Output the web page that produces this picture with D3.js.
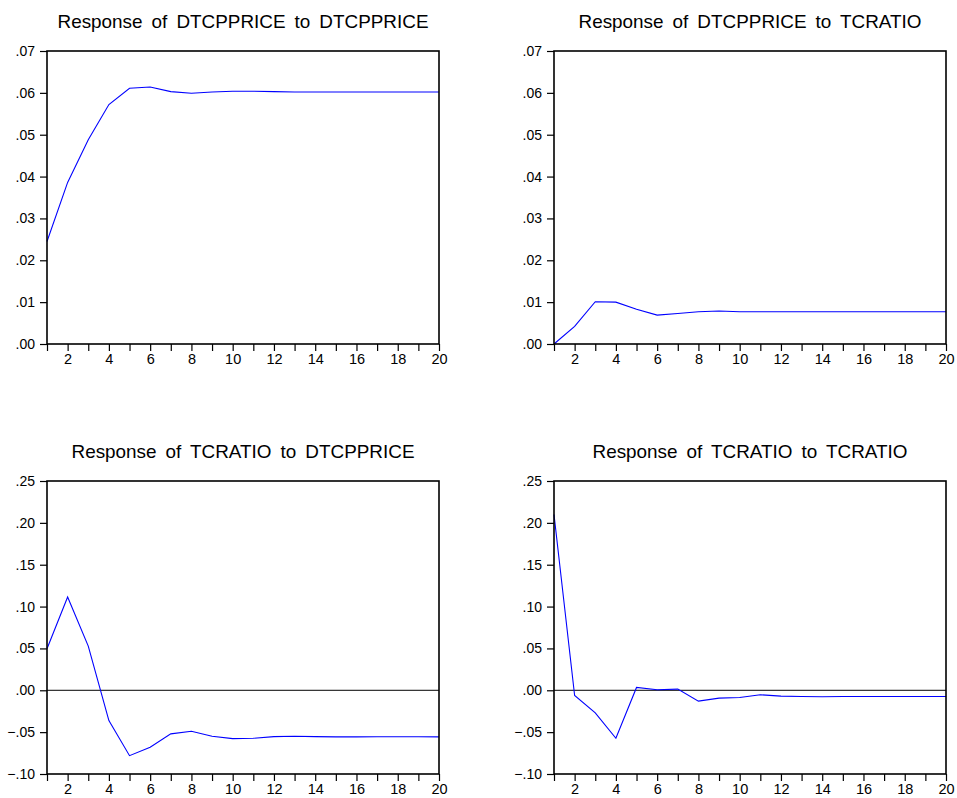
<!DOCTYPE html>
<html>
<head>
<meta charset="utf-8">
<script src="https://cdn.jsdelivr.net/npm/d3@7"></script>
<style>
  body { margin: 0; background: #fff; }
  svg { display: block; }
  .tick text { font-family: "Liberation Sans", Arial, sans-serif; font-size: 14px; fill: #000; }
  .x-axis .tick text { font-size: 14.5px; }
  .title { font-family: "Liberation Sans", Arial, sans-serif; font-size: 17.5px; fill: #000; word-spacing: 3.5px; }
</style>
</head>
<body>
<div id="chart"></div>
<script>
// impulse response periods
var periods = d3.range(1, 21);

var titles = [
  "Response of DTCPPRICE to DTCPPRICE",
  "Response of DTCPPRICE to TCRATIO",
  "Response of TCRATIO to DTCPPRICE",
  "Response of TCRATIO to TCRATIO"
];

var priceToPrice = [0.0245, 0.0386, 0.0488, 0.0572, 0.0611, 0.0614, 0.0603, 0.0599, 0.0602, 0.0604,
  0.0604, 0.0603, 0.0602, 0.0602, 0.0602, 0.0602, 0.0602, 0.0602, 0.0602, 0.0602];
var priceToRatio = [0.0000, 0.0042, 0.0101, 0.0100, 0.0083, 0.0069, 0.0073, 0.0077, 0.0079, 0.0077,
  0.0077, 0.0077, 0.0077, 0.0077, 0.0077, 0.0077, 0.0077, 0.0077, 0.0077, 0.0077];
var ratioToPrice = [0.0496, 0.1115, 0.0528, -0.0362, -0.0781, -0.0681, -0.0521, -0.0489, -0.0549, -0.0577,
  -0.0573, -0.0553, -0.0549, -0.0553, -0.0557, -0.0557, -0.0555, -0.0555, -0.0555, -0.0557];
var ratioToRatio = [0.210, -0.0062, -0.0270, -0.0573, 0.0034, 0.0006, 0.0014, -0.0130, -0.0094, -0.0086,
  -0.0054, -0.0070, -0.0074, -0.0078, -0.0074, -0.0074, -0.0074, -0.0074, -0.0074, -0.0074];

var topTicks = [0, 0.01, 0.02, 0.03, 0.04, 0.05, 0.06, 0.07];
var bottomTicks = [-0.10, -0.05, 0, 0.05, 0.10, 0.15, 0.20, 0.25];
var xLabels = [2, 4, 6, 8, 10, 12, 14, 16, 18, 20];

var panels = [
  {title: titles[0], values: priceToPrice, ticks: topTicks, x0: 47, y0: 51, zero: false},
  {title: titles[1], values: priceToRatio, ticks: topTicks, x0: 554, y0: 51, zero: false},
  {title: titles[2], values: ratioToPrice, ticks: bottomTicks, x0: 47, y0: 481, zero: true},
  {title: titles[3], values: ratioToRatio, ticks: bottomTicks, x0: 554, y0: 481, zero: true}
];

var plotW = 392, plotH = 293;

var svg = d3.select("#chart").append("svg")
  .attr("width", 957)
  .attr("height", 798);

var fmt = function(v) {
  var s = d3.format(".2f")(Math.abs(v) < 1e-9 ? 0 : v);
  return s.replace("0.", ".");
};

panels.forEach(function(p) {
  var g = svg.append("g").attr("transform", "translate(" + p.x0 + "," + p.y0 + ")");

  var x = d3.scaleLinear().domain([1, 20]).range([0, plotW]);
  var y = d3.scaleLinear()
    .domain([p.ticks[0], p.ticks[p.ticks.length - 1]])
    .range([plotH, 0]);

  var yAxis = g.append("g")
    .call(d3.axisLeft(y).tickValues(p.ticks).tickFormat(fmt).tickSize(7).tickPadding(5).tickSizeOuter(0));
  yAxis.select(".domain").remove();
  yAxis.selectAll("line").attr("stroke", "#000").attr("stroke-width", 1.2);

  var xAxis = g.append("g")
    .attr("class", "x-axis")
    .attr("transform", "translate(0," + plotH + ")")
    .call(d3.axisBottom(x).tickValues(periods)
      .tickFormat(function(d) { return xLabels.indexOf(d) >= 0 ? d : ""; })
      .tickSize(7).tickPadding(3).tickSizeOuter(0));
  xAxis.select(".domain").remove();
  xAxis.selectAll("line").attr("stroke", "#000").attr("stroke-width", 1.2);

  if (p.zero) {
    g.append("line")
      .attr("x1", 0).attr("x2", plotW)
      .attr("y1", y(0)).attr("y2", y(0))
      .attr("stroke", "#000").attr("stroke-width", 1);
  }

  var line = d3.line()
    .x(function(d, i) { return x(periods[i]); })
    .y(function(d) { return y(d); });

  g.append("path")
    .datum(p.values)
    .attr("d", line)
    .attr("fill", "none")
    .attr("stroke", "#0000ff")
    .attr("stroke-width", 1.1);

  g.append("rect")
    .attr("x", 0).attr("y", 0)
    .attr("width", plotW).attr("height", plotH)
    .attr("fill", "none")
    .attr("stroke", "#000")
    .attr("stroke-width", 1.6);

  // titles in the reference are a little wider than plain Arial
  g.append("text")
    .attr("class", "title")
    .attr("transform", "translate(" + (plotW / 2) + ",-23) scale(1.08,1)")
    .attr("text-anchor", "middle")
    .text(p.title);
});
</script>
</body>
</html>
